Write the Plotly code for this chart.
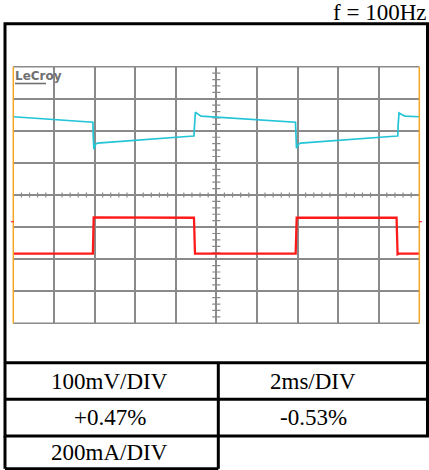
import plotly.graph_objects as go
import numpy as np

# scope screen: 10 horizontal divisions (2 ms/div), 8 vertical divisions
freq_label = "f = 100Hz"

# channel 1 (voltage ripple, 100 mV/div) in divisions
t_volt = [0, 3.92, 3.94, 3.97, 4.05, 4.15, 8.88, 8.90, 8.93, 8.97, 9.10, 9.25,
          13.90, 13.92, 13.95, 14.05, 14.15, 18.92, 18.94, 18.96, 19.00, 19.15, 19.30, 20.0]
v_volt = [2.44, 2.27, 1.80, 1.43, 1.58, 1.62, 1.84, 1.84, 2.20, 2.58, 2.52, 2.46,
          2.27, 1.80, 1.46, 1.58, 1.62, 1.84, 1.84, 2.20, 2.56, 2.50, 2.46, 2.44]

# channel 2 (load current, 200 mA/div)
t_curr = [0, 3.92, 3.96, 8.90, 8.95, 13.91, 13.96, 18.88, 18.93, 19.0, 20.0]
v_curr = [-1.83, -1.83, -0.70, -0.71, -1.83, -1.83, -0.71, -0.71, -1.85, -1.83, -1.83]

trigger_t = 3.98

table_left = ["100mV/DIV", "+0.47%", "200mA/DIV"]
table_right = ["2ms/DIV", "-0.53%", ""]

W, H = 429, 470
gx0, gx1, gy0, gy1 = 13.3, 419.3, 66.7, 323.3
serif = "Times New Roman, Liberation Serif, serif"


def px(x):
    return x / W


def py(y):
    return 1 - y / H


fig = go.Figure()

fig.add_trace(go.Scatter(x=t_volt, y=v_volt, mode="lines",
                         line=dict(color="#22c4d6", width=1.7), showlegend=False,
                         hoverinfo="skip"))
fig.add_trace(go.Scatter(x=t_curr, y=v_curr, mode="lines",
                         line=dict(color="#ff1a1a", width=2.3), showlegend=False,
                         hoverinfo="skip"))
fig.add_trace(go.Scatter(x=[trigger_t], y=[-4.1], mode="markers",
                         marker=dict(symbol="triangle-up", size=8, color="#ff1a1a"),
                         cliponaxis=False, showlegend=False, hoverinfo="skip"))

shapes = []
grid = "#8a8a8a"
# minor ticks on centre axes
for t in np.arange(0.4, 20, 0.4):
    if abs(t / 2 - round(t / 2)) < 1e-6:
        continue
    shapes.append(dict(type="line", xref="x", yref="y", x0=t, x1=t, y0=-0.08, y1=0.08,
                       line=dict(color=grid, width=1.2), layer="below"))
for v in np.arange(-3.8, 4, 0.2):
    if abs(v - round(v)) < 1e-6:
        continue
    shapes.append(dict(type="line", xref="x", yref="y", x0=9.8, x1=10.2, y0=v, y1=v,
                       line=dict(color=grid, width=1.2), layer="below"))

# grid border
shapes.append(dict(type="line", xref="paper", yref="paper", x0=px(gx0), x1=px(gx1),
                   y0=py(gy0), y1=py(gy0), line=dict(color=grid, width=1.6)))
shapes.append(dict(type="line", xref="paper", yref="paper", x0=px(gx0), x1=px(gx1),
                   y0=py(gy1), y1=py(gy1), line=dict(color=grid, width=1.6)))
shapes.append(dict(type="line", xref="paper", yref="paper", x0=px(gx0), x1=px(gx0),
                   y0=py(gy0), y1=py(gy1), line=dict(color="#f5a623", width=1.5)))
shapes.append(dict(type="line", xref="paper", yref="paper", x0=px(gx1), x1=px(gx1),
                   y0=py(gy0), y1=py(gy1), line=dict(color="#f5a623", width=1.5)))
# channel offset markers
shapes.append(dict(type="line", xref="paper", yref="paper", x0=px(11), x1=px(14),
                   y0=py(221.7), y1=py(221.7), line=dict(color="#ff3030", width=1.2)))
shapes.append(dict(type="line", xref="paper", yref="paper", x0=px(419), x1=px(422),
                   y0=py(221.7), y1=py(221.7), line=dict(color="#ff3030", width=1.2)))
# LeCroy underline
shapes.append(dict(type="line", xref="paper", yref="paper", x0=px(15), x1=px(46),
                   y0=py(83.5), y1=py(83.5), line=dict(color="#707070", width=1.6)))

# outer frame and table
blk = dict(color="black", width=3)
shapes.append(dict(type="rect", xref="paper", yref="paper", x0=px(5), x1=px(427.5),
                   y0=py(436), y1=py(23.8), line=blk))
for yy in [362.7, 399.2]:
    shapes.append(dict(type="line", xref="paper", yref="paper", x0=px(5), x1=px(427.5),
                       y0=py(yy), y1=py(yy), line=blk))
shapes.append(dict(type="line", xref="paper", yref="paper", x0=px(5), x1=px(218.3),
                   y0=py(468.8), y1=py(468.8), line=blk))
shapes.append(dict(type="line", xref="paper", yref="paper", x0=px(5), x1=px(5),
                   y0=py(436), y1=py(468.8), line=blk))
shapes.append(dict(type="line", xref="paper", yref="paper", x0=px(218.3), x1=px(218.3),
                   y0=py(362.7), y1=py(468.8), line=blk))

annotations = [dict(text=freq_label, xref="paper", yref="paper", x=px(427.5), y=py(12.5),
                    xanchor="right", yanchor="middle", showarrow=False,
                    font=dict(family=serif, size=23, color="black")),
               dict(text="<b>LeCroy</b>", xref="paper", yref="paper", x=px(13), y=py(76),
                    xanchor="left", yanchor="middle", showarrow=False,
                    font=dict(family="DejaVu Sans", size=12, color="#707070"))]
row_y = [381, 417.5, 452.7]
for i in range(3):
    annotations.append(dict(text=table_left[i], xref="paper", yref="paper", x=px(109.5),
                            y=py(row_y[i]), xanchor="center", yanchor="middle",
                            showarrow=False,
                            font=dict(family=serif, size=23, color="black")))
    if table_right[i]:
        annotations.append(dict(text=table_right[i], xref="paper", yref="paper", x=px(313),
                                y=py(row_y[i]), xanchor="center", yanchor="middle",
                                showarrow=False,
                                font=dict(family=serif, size=23, color="black")))

fig.update_layout(
    width=W, height=H, margin=dict(l=0, r=0, t=0, b=0),
    paper_bgcolor="white", plot_bgcolor="white",
    xaxis=dict(domain=[px(gx0), px(gx1)], range=[0, 20], dtick=2, showgrid=True,
               gridcolor=grid, gridwidth=1.6, zeroline=False, showticklabels=False,
               ticks="", fixedrange=True),
    yaxis=dict(domain=[py(gy1), py(gy0)], range=[-4, 4], dtick=1, showgrid=True,
               gridcolor=grid, gridwidth=1.6, zeroline=False, showticklabels=False,
               ticks="", fixedrange=True),
    shapes=shapes, annotations=annotations,
)

# page body has a default margin; remove it so the figure fills the window
fig.write_html("out.html", post_script="document.body.style.margin='0';",
               config={"displayModeBar": False})
